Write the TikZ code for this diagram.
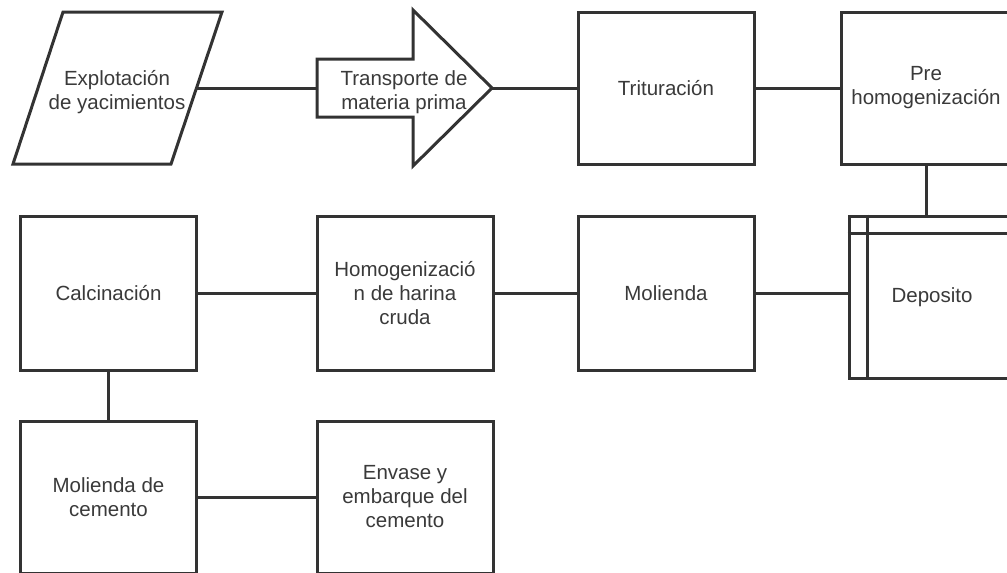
\documentclass[tikz,border=0pt]{standalone}
\usepackage{fontspec}
\setmainfont{Liberation Sans}
\definecolor{ink}{HTML}{333333}
\definecolor{textink}{HTML}{3A3A3A}
\tikzset{
  outline/.style={draw=ink, line width=3pt, line join=miter},
  box/.style={outline, fill=white, minimum width=176pt, minimum height=152pt,
    inner sep=0pt, align=center, text=textink, font=\fontsize{20.5}{24}\selectfont},
  txt/.style={inner sep=0pt, align=center, text=textink, font=\fontsize{20.5}{24}\selectfont},
  link/.style={draw=ink, line width=3pt}
}
\begin{document}
\begin{tikzpicture}[x=1pt, y=-1pt]
\useasboundingbox (0,0) rectangle (1007,573);
\clip (0,0) rectangle (1007,573);
\fill[white] (0,0) rectangle (1007,573);

% input: parallelogram
\draw[outline] (63,12) -- (222,12) -- (171,164) -- (13,164) -- cycle;
\node[txt] (expl) at (117,92) {Explotación\\de yacimientos};
\coordinate (explR) at (196.5,88);

% transport: block arrow
\coordinate (arrTail) at (317,88);
\coordinate (arrTip) at (492,88);
\draw[outline] (arrTail |- 0,59) -- (413,59) -- (413,10) -- (arrTip)
  -- (413,166) -- (413,117) -- (arrTail |- 0,117) -- cycle;
\node[txt] (transp) at (404,92) {Transporte de\\materia prima};

% first row
\node[box] (trit) at (666,88) {Trituración};
\node[box, minimum width=170pt] (pre) at (926,88) {Pre\\homogenización};

% second row
\node[box, minimum height=154pt] (calc) at (108.5,293) {Calcinación};
\node[box, minimum height=154pt] (homog) at (405,293) {Homogenizació\\n de harina\\cruda};
\node[box, minimum height=154pt] (mol) at (666,293) {Molienda};

% storage with internal divider lines
\node[box, minimum width=166pt, minimum height=162pt] (depo) at (932,297) {Deposito};
\draw[outline] (depo.north west -| 867,0) -- (depo.south west -| 867,0);
\draw[outline] (depo.west |- 0,233) -- (depo.east |- 0,233);

% third row
\node[box] (molc) at (108.5,497) {Molienda de\\cemento};
\node[box] (env) at (405,497) {Envase y\\embarque del\\cemento};

% connectors
\draw[link] (explR) -- (arrTail);
\draw[link] (arrTip) -- (trit.west);
\draw[link] (trit.east) -- (pre.west);
\draw[link] (pre.south) -- (pre.south |- depo.north);
\draw[link] (mol.east) -- (mol.east -| depo.west);
\draw[link] (homog.east) -- (mol.west);
\draw[link] (calc.east) -- (homog.west);
\draw[link] (calc.south) -- (molc.north);
\draw[link] (molc.east) -- (env.west);
\end{tikzpicture}
\end{document}
